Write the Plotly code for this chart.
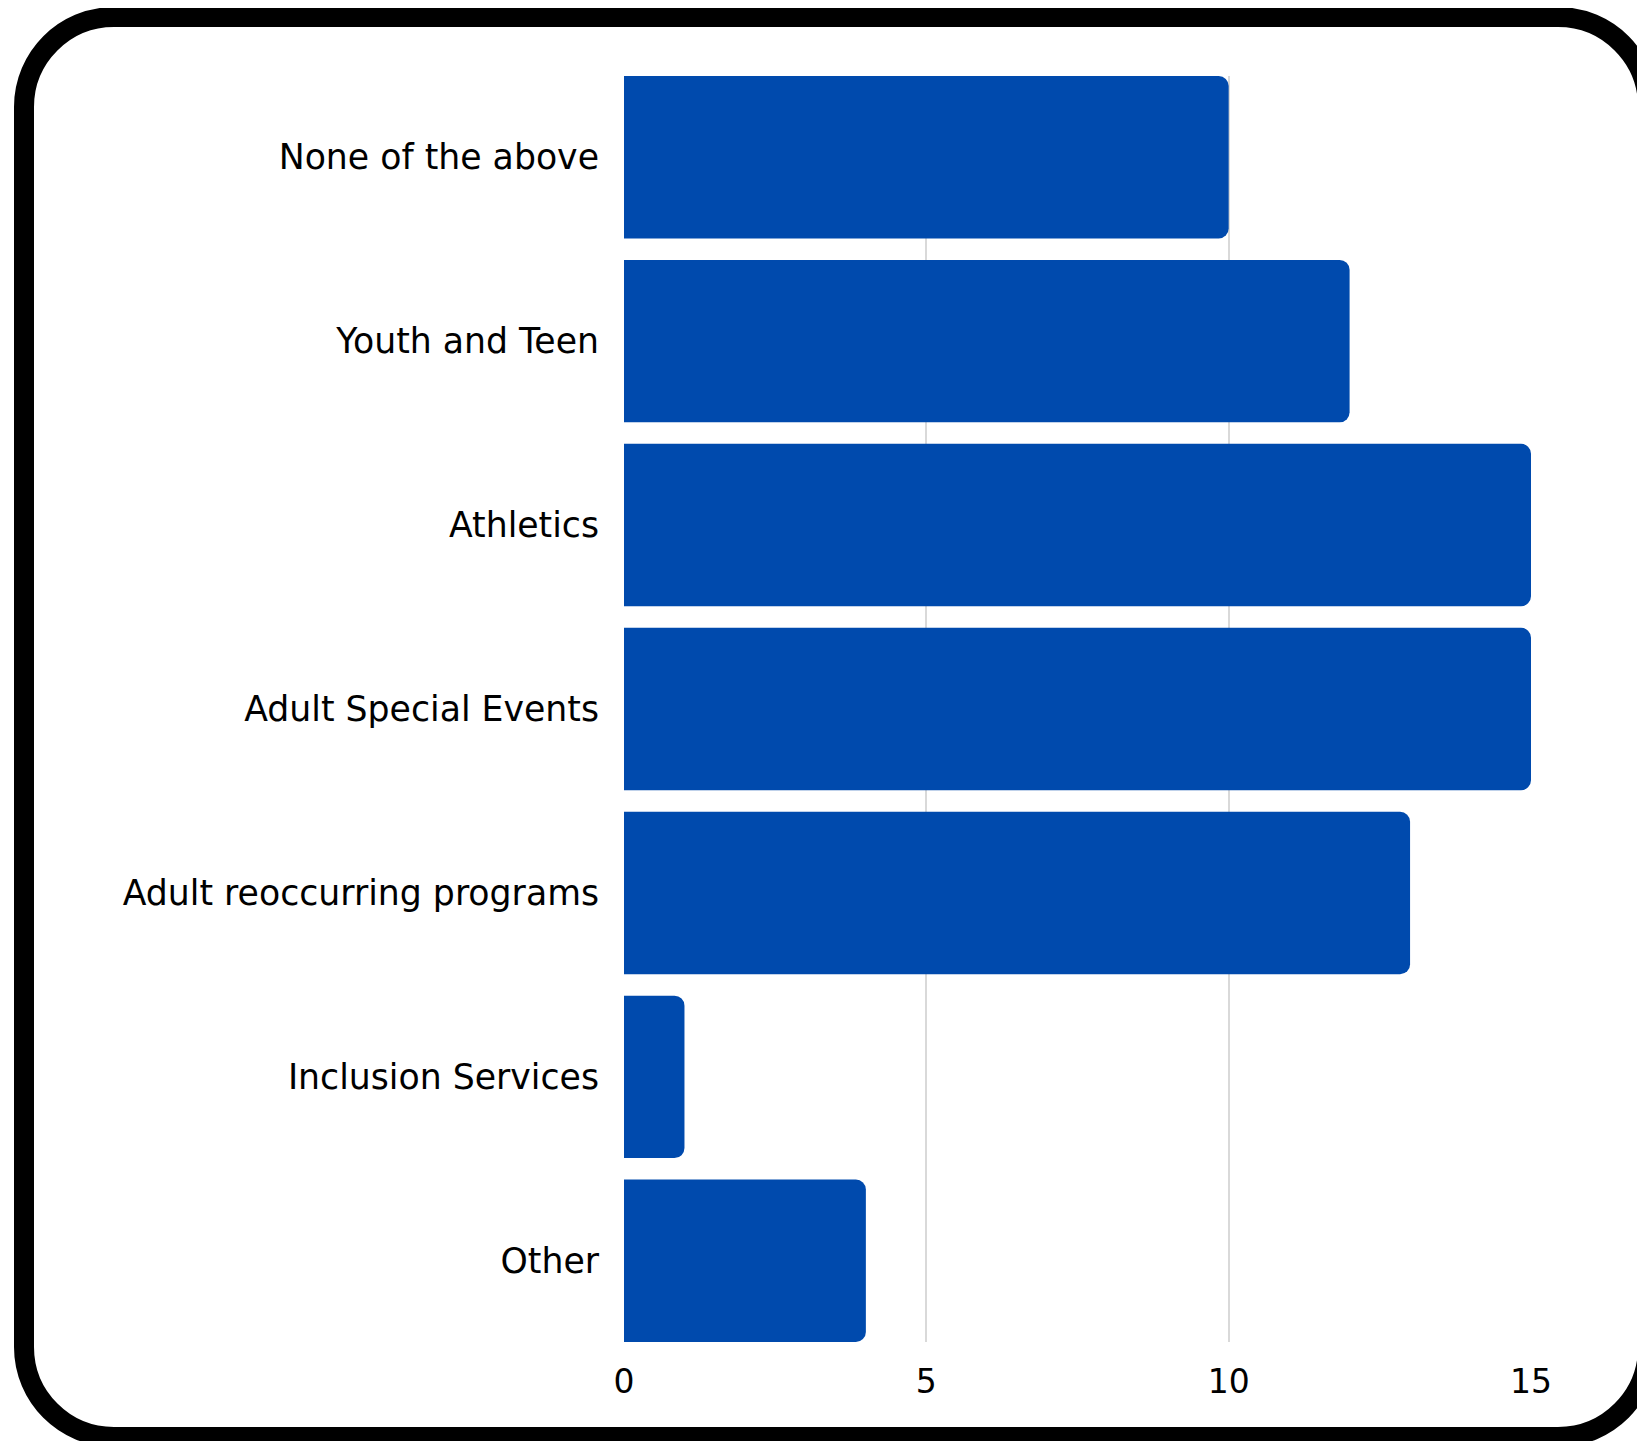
import plotly.graph_objects as go

categories = ["None of the above", "Youth and Teen", "Athletics", "Adult Special Events",
              "Adult reoccurring programs", "Inclusion Services", "Other"]
values = [10, 12, 15, 15, 13, 1, 4]
tick_vals = [0, 5, 10, 15]
tick_text = ["0", "5", "10", "15"]

# page has an 8px body margin, so the figure is drawn 8px smaller and offset
OFF = 8
W, H = 1645 - OFF, 1441 - OFF
ML, MT = 616, 68
MR = W - 1523
MB = H - 1334
PW, PH = W - ML - MR, H - MT - MB
BARGAP = 0.117
FONT = "DejaVu Sans"


def px(x):
    return (x - ML) / PW


def py(y):
    return (H - MB - y) / PH


def rounded_rect(x0, y0, x1, y1, r):
    k = 0.5523 * r
    pts = [
        f"M {px(x0 + r)},{py(y0)}",
        f"L {px(x1 - r)},{py(y0)}",
        f"C {px(x1 - r + k)},{py(y0)} {px(x1)},{py(y0 + r - k)} {px(x1)},{py(y0 + r)}",
        f"L {px(x1)},{py(y1 - r)}",
        f"C {px(x1)},{py(y1 - r + k)} {px(x1 - r + k)},{py(y1)} {px(x1 - r)},{py(y1)}",
        f"L {px(x0 + r)},{py(y1)}",
        f"C {px(x0 + r - k)},{py(y1)} {px(x0)},{py(y1 - r + k)} {px(x0)},{py(y1 - r)}",
        f"L {px(x0)},{py(y0 + r)}",
        f"C {px(x0)},{py(y0 + r - k)} {px(x0 + r - k)},{py(y0)} {px(x0 + r)},{py(y0)}",
        "Z",
    ]
    return " ".join(pts)


fig = go.Figure(go.Bar(
    x=values,
    y=categories,
    orientation="h",
    marker=dict(color="#004AAD", cornerradius=10, line=dict(width=0)),
    hoverinfo="x+y",
))

half = (1 - BARGAP) / 2
fig.update_layout(
    width=W, height=H,
    margin=dict(l=ML, r=MR, t=MT, b=MB),
    paper_bgcolor="white",
    plot_bgcolor="white",
    bargap=BARGAP,
    showlegend=False,
    font=dict(family=FONT, color="#000000", size=32),
    xaxis=dict(
        range=[0, 15],
        tickvals=tick_vals,
        ticktext=tick_text,
        showgrid=True,
        gridcolor="#D9D9D9",
        gridwidth=1.5,
        zeroline=False,
        showline=False,
        ticks="",
        ticklabelstandoff=17,
        tickfont=dict(size=33, family=FONT, color="#000000"),
    ),
    yaxis=dict(
        categoryorder="array",
        categoryarray=categories,
        range=[len(categories) - 1 + half, -half],
        showgrid=False,
        zeroline=False,
        showline=False,
        ticks="",
        ticklabelstandoff=24,
        tickfont=dict(size=34.7, family=FONT, color="#000000"),
    ),
    shapes=[dict(
        type="path",
        xref="paper", yref="paper",
        path=rounded_rect(16, 9, 1640, 1429, 90),
        line=dict(color="#000000", width=20),
        fillcolor="rgba(0,0,0,0)",
        layer="above",
    )],
)

fig.write_html("out.html")
